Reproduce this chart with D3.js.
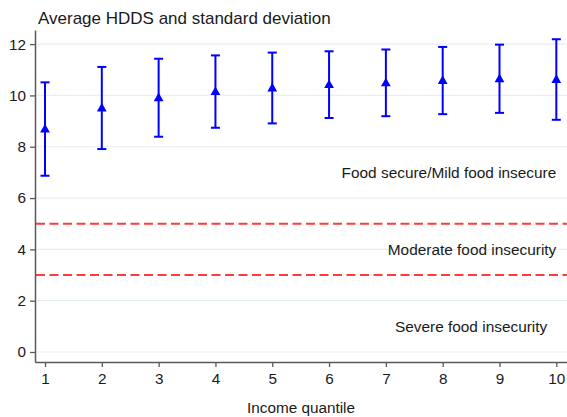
<!DOCTYPE html>
<html>
<head>
<meta charset="utf-8">
<script src="https://cdn.jsdelivr.net/npm/d3@7"></script>
<style>
  html, body { margin: 0; padding: 0; background: #fff; }
  svg { display: block; font-family: "Liberation Sans", Arial, sans-serif; }
</style>
</head>
<body>
<svg id="chart" width="567" height="417"></svg>
<script>
// ---- data ----
const quantiles = [1, 2, 3, 4, 5, 6, 7, 8, 9, 10];
const meanHDDS  = [8.69, 9.51, 9.91, 10.15, 10.29, 10.42, 10.49, 10.58, 10.65, 10.62];
const sdHDDS    = [1.82, 1.60, 1.52, 1.41, 1.38, 1.30, 1.30, 1.31, 1.33, 1.57];
const thresholds = [5, 3];
const zoneLabels = ["Food secure/Mild food insecure", "Moderate food insecurity", "Severe food insecurity"];
const zoneLevels = [7, 4, 1];
const yTicks = [0, 2, 4, 6, 8, 10, 12];
const xTicks = [1, 2, 3, 4, 5, 6, 7, 8, 9, 10];
const titleText = "Average HDDS and standard deviation";
const xTitle = "Income quantile";

// ---- layout ----
const svg = d3.select("#chart");
const padL = 35, padR = 567, padT = 30, padB = 362;

const x = d3.scaleLinear().domain([0.824, 10.188]).range([padL, padR]);
const y = d3.scaleLinear().domain([-0.39, 12.55]).range([padB, padT]);

const axisColor = "#5a5a5a";
const textColor = "#1a1a1a";

// gridlines
svg.append("g").selectAll("line").data(yTicks).join("line")
  .attr("x1", padL).attr("x2", padR)
  .attr("y1", d => y(d)).attr("y2", d => y(d))
  .attr("stroke", "#e6eff3").attr("stroke-width", 1.2);

// threshold lines
svg.append("g").selectAll("line").data(thresholds).join("line")
  .attr("x1", padL + 1).attr("x2", padR)
  .attr("y1", d => y(d)).attr("y2", d => y(d))
  .attr("stroke", "#ff3b3b").attr("stroke-width", 2)
  .attr("stroke-dasharray", "9,4.5");

// zone labels
const zoneAnchorX = [10.0, 10.0, 9.84];
svg.append("g").selectAll("text").data(zoneLabels).join("text")
  .attr("x", (d, i) => x(zoneAnchorX[i]))
  .attr("y", (d, i) => y(zoneLevels[i]))
  .attr("text-anchor", "end")
  .attr("dominant-baseline", "central")
  .attr("font-size", 15.4)
  .attr("fill", textColor)
  .text(d => d);

// y axis
const yAxis = d3.axisLeft(y).tickValues(yTicks).tickSize(5).tickSizeOuter(0).tickPadding(4);
const gy = svg.append("g").attr("transform", `translate(${padL},0)`).call(yAxis);
gy.select(".domain").attr("stroke", axisColor).attr("stroke-width", 1.5);
gy.selectAll(".tick line").attr("stroke", axisColor).attr("stroke-width", 1.3);
gy.selectAll(".tick text").attr("font-size", 15.3).attr("fill", textColor)
  .attr("font-family", "'Liberation Sans', Arial, sans-serif");

// x axis
const xAxis = d3.axisBottom(x).tickValues(xTicks).tickSize(5).tickSizeOuter(0).tickPadding(6);
const gx = svg.append("g").attr("transform", `translate(0,${padB})`).call(xAxis);
gx.select(".domain").attr("stroke", axisColor).attr("stroke-width", 1.5);
gx.selectAll(".tick line").attr("stroke", axisColor).attr("stroke-width", 1.3);
gx.selectAll(".tick text").attr("font-size", 15.3).attr("fill", textColor)
  .attr("font-family", "'Liberation Sans', Arial, sans-serif");

// error bars
const data = quantiles.map((q, i) => ({ q, m: meanHDDS[i], sd: sdHDDS[i] }));
const blue = "#0000ff";
const capW = 4.5;
const eb = svg.append("g");
eb.selectAll("line.v").data(data).join("line").attr("class", "v")
  .attr("x1", d => x(d.q)).attr("x2", d => x(d.q))
  .attr("y1", d => y(d.m + d.sd)).attr("y2", d => y(d.m - d.sd))
  .attr("stroke", blue).attr("stroke-width", 2);
eb.selectAll("line.t").data(data).join("line").attr("class", "t")
  .attr("x1", d => x(d.q) - capW).attr("x2", d => x(d.q) + capW)
  .attr("y1", d => y(d.m + d.sd)).attr("y2", d => y(d.m + d.sd))
  .attr("stroke", blue).attr("stroke-width", 2);
eb.selectAll("line.b").data(data).join("line").attr("class", "b")
  .attr("x1", d => x(d.q) - capW).attr("x2", d => x(d.q) + capW)
  .attr("y1", d => y(d.m - d.sd)).attr("y2", d => y(d.m - d.sd))
  .attr("stroke", blue).attr("stroke-width", 2);

// triangle markers
const tri = "M0,-5.2L4.9,3.4L-4.9,3.4Z";
eb.selectAll("path.m").data(data).join("path").attr("class", "m")
  .attr("transform", d => `translate(${x(d.q)},${y(d.m)})`)
  .attr("d", tri).attr("fill", blue);

// title
svg.append("text").attr("x", 38).attr("y", 24)
  .attr("font-size", 17).attr("fill", textColor).text(titleText);

// x title
svg.append("text").attr("x", (padL + padR) / 2).attr("y", 413)
  .attr("text-anchor", "middle").attr("font-size", 15.3).attr("fill", textColor)
  .text(xTitle);
</script>
</body>
</html>
